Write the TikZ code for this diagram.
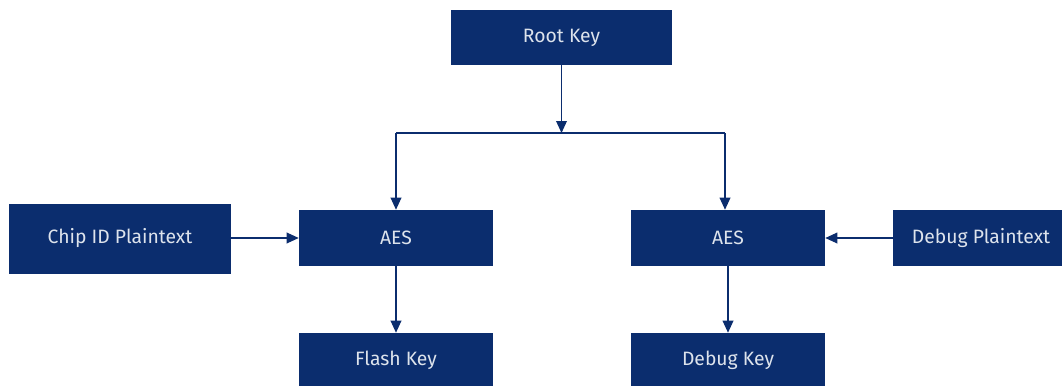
\documentclass[tikz,border=0pt]{standalone}
\usepackage{fontspec}
\setmainfont{Fira Sans}
\usetikzlibrary{arrows.meta}
\definecolor{navy}{HTML}{0B2D6E}
\definecolor{boxtext}{HTML}{DDE3EC}
\tikzset{
  box/.style={draw=none, fill=navy, text=boxtext, inner sep=0pt, font=\fontsize{14.5}{17}\selectfont},
  conn/.style={draw=navy, line width=1pt, -{Triangle[length=9pt,width=8pt]}},
  plain/.style={draw=navy, line width=1pt}
}
\begin{document}
\begin{tikzpicture}[x=0.75pt,y=-0.75pt]
\useasboundingbox (0,0) rectangle (1062,385);
\node[box, minimum width=165.75pt, minimum height=41.25pt] (root) at (561.5,37.5) {Root Key};
\node[box, minimum width=166.5pt, minimum height=52.5pt] (chip) at (120,238.5) {Chip ID Plaintext};
\node[box, minimum width=145.5pt, minimum height=42pt] (aesL) at (396,238) {AES};
\node[box, minimum width=145.5pt, minimum height=42pt] (aesR) at (728,238) {AES};
\node[box, minimum width=132pt, minimum height=42pt] (dbgpt) at (981,238) {Debug Plaintext};
\node[box, minimum width=145.5pt, minimum height=41.25pt] (flash) at (396,360.5) {Flash Key};
\node[box, minimum width=145.5pt, minimum height=41.25pt] (dbgkey) at (728,360.5) {Debug Key};
\coordinate (j) at (561.5,133);
\coordinate (jl) at (396,133);
\coordinate (jr) at (725,133);
\draw[conn] (root.south) -- (j);
\draw[plain] (jl) -- (jr);
\draw[conn] (jl) -- (jl |- aesL.north);
\draw[conn] (jr) -- (jr |- aesR.north);
\draw[conn] (chip.east |- aesL.west) -- (aesL.west);
\draw[conn] (dbgpt.west) -- (aesR.east);
\draw[conn] (aesL.south) -- (flash.north);
\draw[conn] (aesR.south) -- (dbgkey.north);
\end{tikzpicture}
\end{document}
